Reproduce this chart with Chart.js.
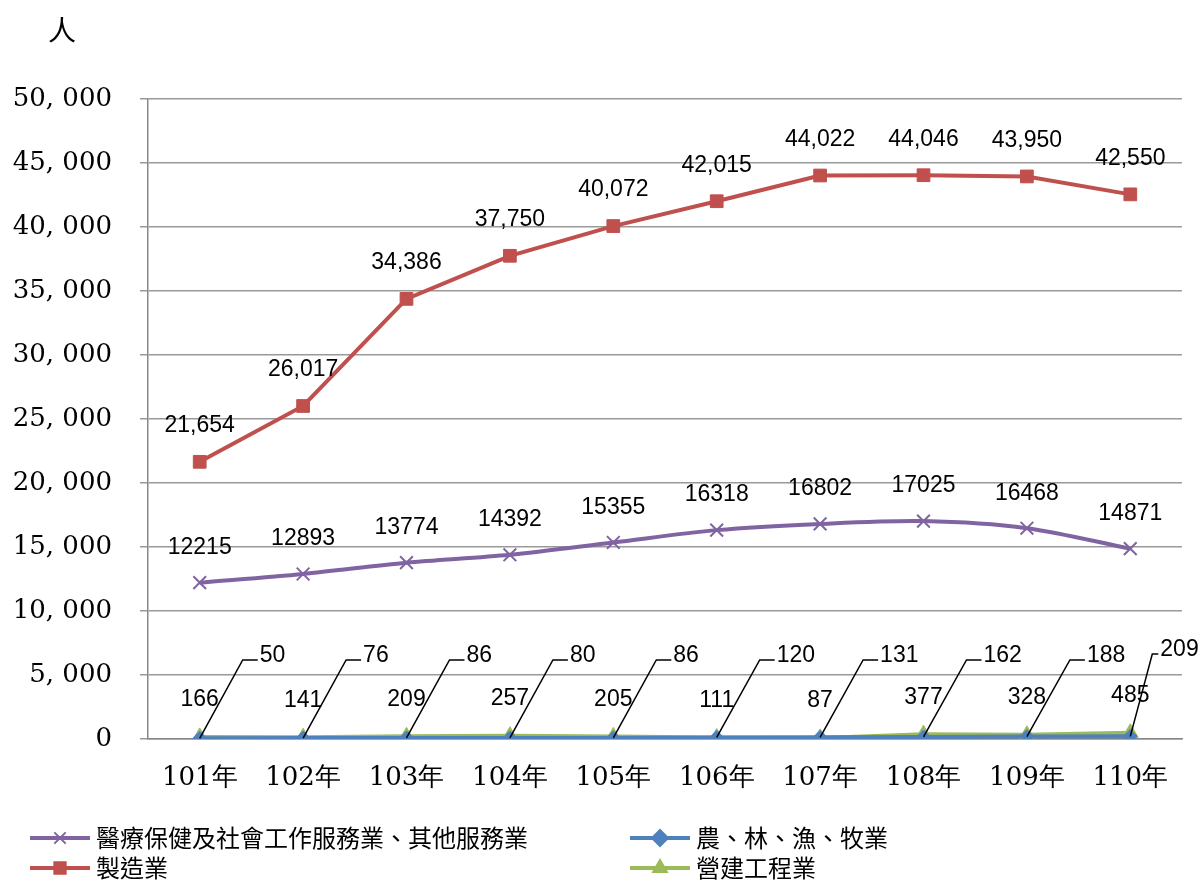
<!DOCTYPE html>
<html><head><meta charset="utf-8">
<script src="https://cdn.jsdelivr.net/npm/chart.js@4.4.0/dist/chart.umd.min.js"></script>
<style>html,body{margin:0;background:#fff}canvas{display:block}</style>
</head><body>
<div style="width:1202px;height:884px"><canvas id="c"></canvas></div>
<script>
const years = ['101年','102年','103年','104年','105年','106年','107年','108年','109年','110年'];
const medical = [12215,12893,13774,14392,15355,16318,16802,17025,16468,14871];
const manufacturing = [21654,26017,34386,37750,40072,42015,44022,44046,43950,42550];
const agriculture = [50,76,86,80,86,120,131,162,188,209];
const construction = [166,141,209,257,205,111,87,377,328,485];
const yTicks = [0,5000,10000,15000,20000,25000,30000,35000,40000,45000,50000];

const serif = '"DejaVu Serif", "Liberation Serif", serif';
const sans = '"Liberation Sans", Arial, sans-serif';
const cjk = '"Noto Sans CJK TC", sans-serif';

function fmtComma(v) { return v.toLocaleString('en-US'); }
function fmtTick(v) { return v === 0 ? '0' : fmtComma(v).replace(',', ', '); }

const labelPlugin = {
  id: 'labels',
  afterDatasetsDraw(chart) {
    const c = chart.ctx;
    c.save();
    c.font = '23px ' + sans;
    c.fillStyle = '#000';
    c.textAlign = 'center';
    c.textBaseline = 'middle';
    chart.getDatasetMeta(0).data.forEach((p, i) => c.fillText(String(medical[i]), p.x, p.y - 35));
    chart.getDatasetMeta(1).data.forEach((p, i) => c.fillText(fmtComma(manufacturing[i]), p.x, p.y - 36));
    chart.getDatasetMeta(3).data.forEach((p, i) => c.fillText(String(construction[i]), p.x, p.y - 37));
    // leader lines for agriculture
    chart.getDatasetMeta(2).data.forEach((p, i) => {
      const last = i === agriculture.length - 1;
      const ly = last ? 650 : 656;
      const dx = last ? 22 : 43;
      const hx = last ? 28 : 58;
      c.strokeStyle = '#000';
      c.lineWidth = 1.5;
      c.beginPath();
      c.moveTo(p.x, p.y);
      c.lineTo(p.x + dx, ly + 4);
      c.lineTo(p.x + hx, ly + 4);
      c.stroke();
      c.textAlign = 'left';
      c.fillText(String(agriculture[i]), p.x + hx + 2, ly);
    });
    c.restore();
  },
  afterDraw(chart) {
    const c = chart.ctx;
    c.save();
    c.font = '28px ' + cjk;
    c.fillStyle = '#000';
    c.textBaseline = 'middle';
    c.fillText('人', 48, 30);
    const items = [
      ['醫療保健及社會工作服務業、其他服務業', '#8064A2', 'crossRot', 30, 838],
      ['農、林、漁、牧業', '#4F81BD', 'rectRot', 630, 838],
      ['製造業', '#C0504D', 'rect', 30, 868],
      ['營建工程業', '#9BBB59', 'triangle', 630, 868]
    ];
    items.forEach(([t, col, st, x, y]) => {
      c.strokeStyle = col;
      c.lineWidth = 4;
      c.beginPath(); c.moveTo(x, y); c.lineTo(x + 60, y); c.stroke();
      c.fillStyle = col;
      c.lineWidth = 2;
      Chart.helpers.drawPoint(c, { pointStyle: st, radius: 8, borderWidth: 2 }, x + 30, y);
      c.fillStyle = '#000';
      c.font = '24px ' + cjk;
      c.textAlign = 'left';
      c.fillText(t, x + 66, y);
    });
    c.restore();
  }
};

new Chart(document.getElementById('c'), {
  type: 'line',
  data: {
    labels: years,
    datasets: [
      { data: medical, borderColor: '#8064A2', backgroundColor: '#8064A2', borderWidth: 4, tension: 0.3,
        pointStyle: 'crossRot', pointRadius: 9, pointBorderWidth: 2 },
      { data: manufacturing, borderColor: '#C0504D', backgroundColor: '#C0504D', borderWidth: 4, tension: 0,
        pointStyle: 'rect', pointRadius: 9, pointBorderWidth: 1 },
      { data: agriculture, borderColor: '#4F81BD', backgroundColor: '#4F81BD', borderWidth: 4, tension: 0,
        pointStyle: 'rectRot', pointRadius: 7, pointBorderWidth: 1 },
      { data: construction, borderColor: '#9BBB59', backgroundColor: '#9BBB59', borderWidth: 4, tension: 0,
        pointStyle: 'triangle', pointRadius: 9, pointBorderWidth: 1 }
    ]
  },
  options: {
    responsive: true,
    maintainAspectRatio: false,
    animation: false,
    layout: { padding: { left: 0, top: 99, right: 20, bottom: 0 } },
    plugins: { legend: { display: false }, tooltip: { enabled: false } },
    scales: {
      x: {
        offset: true,
        afterFit: s => { s.height = 145; },
        grid: { display: false, drawTicks: false },
        border: { color: '#888', width: 1.5 },
        ticks: { color: '#000', font: { size: 26, family: serif }, padding: 24 }
      },
      y: {
        min: 0, max: 50000,
        afterFit: s => { s.width = 148; },
        afterBuildTicks: s => { s.ticks = yTicks.map(v => ({ value: v })); },
        grid: { color: '#999', lineWidth: 1.5, drawTicks: true, tickLength: 8 },
        border: { color: '#888', width: 1.5 },
        ticks: { color: '#000', font: { size: 26, family: serif }, padding: 28, callback: v => fmtTick(v) }
      }
    }
  },
  plugins: [labelPlugin]
});
</script>
</body></html>
